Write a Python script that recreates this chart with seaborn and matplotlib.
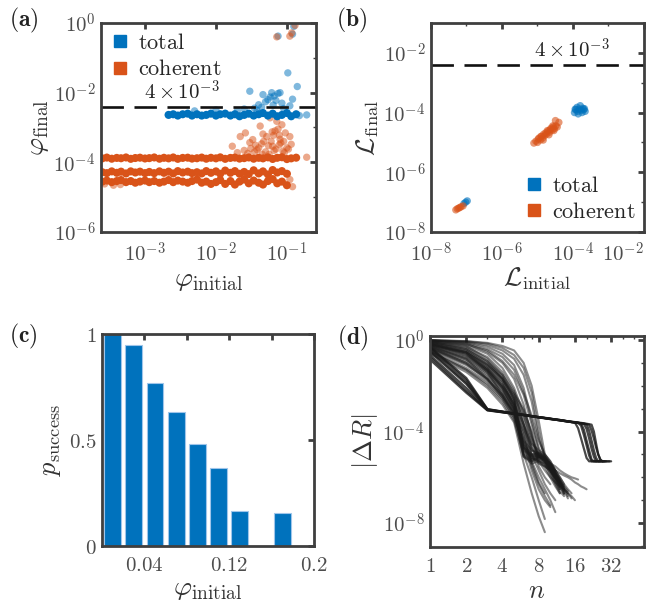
import numpy as np
import pandas as pd
import seaborn as sns
import matplotlib
matplotlib.use('Agg')
import matplotlib.pyplot as plt
from matplotlib.lines import Line2D
from matplotlib.ticker import FixedLocator, NullFormatter

# ---------------- data ----------------
threshold = 4e-3

# (a) phi_final vs phi_initial
band_x = [2.5e-4, 2.9e-4, 3.4e-4, 4.0e-4, 4.6e-4, 5.4e-4, 6.3e-4, 7.3e-4, 8.5e-4, 1.0e-3,
          1.15e-3, 1.35e-3, 1.6e-3, 1.85e-3, 2.15e-3, 2.5e-3, 2.9e-3, 3.4e-3, 4.0e-3, 4.6e-3,
          5.4e-3, 6.3e-3, 7.3e-3, 8.5e-3, 0.010, 0.0115, 0.0135, 0.016, 0.0185, 0.0215,
          0.025, 0.029, 0.034, 0.040, 0.046, 0.054, 0.063, 0.073, 0.085, 0.100, 0.115, 0.135]
blue_band_y = [2.3e-3, 2.4e-3, 2.2e-3, 2.4e-3, 2.5e-3, 2.2e-3, 2.4e-3, 2.2e-3, 2.3e-3, 2.5e-3,
               2.2e-3, 2.4e-3, 2.5e-3, 2.2e-3, 2.4e-3, 2.1e-3, 2.3e-3, 2.5e-3, 2.2e-3, 2.4e-3,
               2.6e-3, 2.2e-3, 2.5e-3, 2.1e-3, 2.3e-3, 2.6e-3, 2.1e-3, 2.4e-3]
blue_spread_x = [0.005, 0.010, 0.020, 0.025, 0.030, 0.035, 0.040, 0.046, 0.050, 0.054, 0.058,
                 0.061, 0.066, 0.070, 0.075, 0.080, 0.085, 0.103, 0.110, 0.120, 0.140, 0.150,
                 0.190, 0.075, 0.120, 0.125, 0.044, 0.064, 0.090, 0.038]
blue_spread_y = [3.0e-3, 3.2e-3, 3.0e-3, 3.4e-3, 1.1e-2, 3.6e-3, 4.5e-3, 8.8e-3, 5.5e-3, 6.3e-3,
                 7.5e-3, 1.0e-2, 8.0e-3, 6.0e-3, 9.5e-3, 1.0e-2, 5.0e-3, 3.7e-2, 4.2e-3, 6.5e-3,
                 1.5e-2, 2.2e-3, 2.3e-3, 0.42, 0.48, 0.80, 3.8e-3, 4.4e-3, 3.5e-3, 3.1e-3]
orange_band1_y = [1.30e-4, 1.37e-4, 1.27e-4, 1.34e-4, 1.31e-4, 1.38e-4, 1.26e-4, 1.33e-4, 1.36e-4, 1.29e-4,
                  1.32e-4, 1.38e-4, 1.27e-4, 1.35e-4, 1.30e-4, 1.38e-4, 1.26e-4, 1.34e-4, 1.36e-4, 1.28e-4,
                  1.31e-4, 1.37e-4, 1.27e-4, 1.35e-4, 1.30e-4, 1.39e-4, 1.26e-4, 1.34e-4, 1.37e-4, 1.28e-4,
                  1.32e-4, 1.38e-4, 1.27e-4, 1.35e-4, 1.30e-4, 1.39e-4, 1.25e-4, 1.35e-4, 1.40e-4, 1.24e-4,
                  1.30e-4, 1.36e-4]
orange_band2_y = [5.2e-5, 4.9e-5, 5.5e-5, 5.0e-5, 5.4e-5, 4.8e-5, 5.5e-5, 5.1e-5, 5.4e-5, 4.9e-5,
                  5.3e-5, 4.9e-5, 5.5e-5, 5.0e-5, 5.4e-5, 4.8e-5, 5.6e-5, 5.1e-5, 5.4e-5, 4.9e-5,
                  5.2e-5, 4.8e-5, 5.6e-5, 5.0e-5, 5.5e-5, 4.7e-5, 5.8e-5, 5.0e-5, 5.6e-5, 4.7e-5,
                  5.3e-5, 4.6e-5, 5.9e-5, 4.8e-5, 5.5e-5, 4.5e-5, 6.0e-5, 5.1e-5, 5.6e-5, 4.7e-5]
orange_band3_y = [2.8e-5, 3.0e-5, 2.7e-5, 2.9e-5, 3.1e-5, 2.7e-5, 2.9e-5, 2.6e-5, 2.8e-5, 3.0e-5,
                  2.7e-5, 2.9e-5, 2.6e-5, 2.8e-5, 3.1e-5, 2.7e-5, 3.0e-5, 2.8e-5, 2.6e-5, 2.9e-5,
                  3.2e-5, 2.6e-5, 2.8e-5, 2.4e-5, 2.7e-5, 3.1e-5, 2.4e-5, 2.9e-5, 2.3e-5, 2.8e-5,
                  3.2e-5, 2.5e-5, 3.0e-5, 2.6e-5, 2.3e-5, 2.9e-5, 3.3e-5, 2.5e-5, 2.8e-5, 2.2e-5]
orange_spread_x = [0.017, 0.022, 0.026, 0.030, 0.035, 0.038, 0.042, 0.047, 0.052, 0.058, 0.063,
                   0.068, 0.072, 0.078, 0.080, 0.088, 0.095, 0.110, 0.110, 0.115, 0.120, 0.190,
                   0.025, 0.045, 0.065, 0.085, 0.100, 0.055, 0.033, 0.075,
                   0.028, 0.040, 0.050, 0.060, 0.070, 0.082, 0.092, 0.036, 0.046, 0.056,
                   0.066, 0.078, 0.020, 0.031, 0.044, 0.062, 0.090, 0.105,
                   2.7e-4, 3.6e-4, 4.5e-4,
                   0.072, 0.110, 0.117, 0.130]
orange_spread_y = [2.9e-4, 5.5e-4, 7.0e-4, 3.7e-4, 2.0e-4, 2.3e-4, 1.1e-3, 4.0e-4, 5.5e-4, 1.9e-3, 2.9e-4,
                   8.0e-4, 1.5e-3, 3.2e-4, 4.6e-4, 2.1e-4, 7.0e-4, 5.5e-4, 3.2e-5, 3.3e-4, 2.0e-5, 1.4e-4,
                   2.2e-4, 1.7e-4, 6.0e-4, 1.2e-3, 2.6e-4, 3.0e-4, 4.5e-4, 9.0e-4,
                   1.8e-4, 2.6e-4, 2.0e-4, 4.0e-4, 2.4e-4, 3.6e-4, 1.9e-4, 3.1e-4, 6.5e-4, 1.7e-4,
                   2.2e-4, 6.0e-4, 1.9e-4, 2.5e-4, 3.4e-4, 7.5e-4, 4.0e-4, 2.4e-4,
                   2.4e-5, 2.2e-5, 2.3e-5,
                   0.40, 0.42, 0.52, 0.85]

# (b) L_final vs L_initial
b_blue_x = [9.5e-8, 1.05e-7, 8.5e-8, 1.1e-4, 1.3e-4, 1.6e-4, 1.9e-4, 2.2e-4, 1.4e-4, 1.2e-4,
            1.7e-4, 2.0e-4, 1.5e-4, 1.8e-4, 1.35e-4, 1.15e-4, 2.1e-4]
b_blue_y = [1.0e-7, 1.1e-7, 9.0e-8, 1.0e-4, 1.5e-4, 1.7e-4, 1.4e-4, 1.1e-4, 9.0e-5, 1.25e-4,
            1.2e-4, 1.25e-4, 1.3e-4, 1.0e-4, 1.1e-4, 1.3e-4, 1.35e-4]
b_orange_x = [5.0e-8, 6.0e-8, 7.0e-8, 5.5e-8, 8.0e-8, 6.5e-8, 7.9e-6, 9.0e-6, 1.0e-5, 1.1e-5,
              1.2e-5, 1.3e-5, 1.4e-5, 1.5e-5, 1.6e-5, 1.7e-5, 1.8e-5, 2.0e-5, 2.2e-5, 2.4e-5,
              2.6e-5, 2.8e-5, 3.0e-5, 3.3e-5, 3.6e-5, 4.0e-5, 1.25e-5, 1.9e-5, 2.3e-5, 2.7e-5,
              1.05e-5, 3.2e-5, 1.45e-5, 2.1e-5, 2.9e-5]
b_orange_y = [5.5e-8, 6.3e-8, 7.0e-8, 6.0e-8, 7.5e-8, 6.6e-8, 9.5e-6, 1.1e-5, 1.0e-5, 1.4e-5,
              1.2e-5, 1.6e-5, 1.4e-5, 1.9e-5, 1.7e-5, 2.1e-5, 1.9e-5, 2.4e-5, 2.2e-5, 3.0e-5,
              2.6e-5, 3.3e-5, 2.9e-5, 3.6e-5, 3.3e-5, 4.7e-5, 1.6e-5, 2.5e-5, 2.7e-5, 3.6e-5,
              1.3e-5, 5.4e-5, 1.2e-5, 1.8e-5, 2.5e-5]

# (c) success probability per phi_initial bin
bin_centers = [0.01, 0.03, 0.05, 0.07, 0.09, 0.11, 0.13, 0.15, 0.17, 0.19]
p_success = [1.0, 0.95, 0.77, 0.63, 0.48, 0.37, 0.166, 0.0, 0.158, 0.0]

# (d) |Delta R| per iteration n (index 0 -> n = 1)
slow_runs = [
    [0.30, 1.2e-2, 9.0e-4, 7.2e-4, 6.1e-4, 5.3e-4, 4.7e-4, 4.2e-4, 3.9e-4, 3.6e-4, 3.3e-4, 3.1e-4,
     2.9e-4, 2.8e-4, 2.6e-4, 2.5e-4, 1.4e-4, 5.0e-5, 1.8e-5, 7.0e-6, 5.0e-6, 5.0e-6, 5.0e-6, 5.0e-6],
    [0.18, 6.0e-3, 8.6e-4, 7.0e-4, 6.0e-4, 5.2e-4, 4.6e-4, 4.2e-4, 3.8e-4, 3.5e-4, 3.3e-4, 3.1e-4,
     2.9e-4, 2.7e-4, 2.6e-4, 2.5e-4, 2.4e-4, 2.3e-4, 1.2e-4, 4.0e-5, 1.5e-5, 6.0e-6, 5.0e-6, 5.0e-6,
     5.0e-6, 5.0e-6, 5.0e-6],
    [0.45, 1.8e-2, 9.4e-4, 7.4e-4, 6.2e-4, 5.4e-4, 4.8e-4, 4.3e-4, 3.9e-4, 3.6e-4, 3.4e-4, 3.2e-4,
     3.0e-4, 2.8e-4, 2.7e-4, 2.5e-4, 2.4e-4, 2.3e-4, 2.2e-4, 2.1e-4, 1.1e-4, 4.0e-5, 1.5e-5, 7.0e-6,
     5.0e-6, 5.0e-6, 5.0e-6, 5.0e-6, 5.0e-6],
    [0.22, 8.0e-3, 8.8e-4, 7.1e-4, 6.0e-4, 5.3e-4, 4.7e-4, 4.2e-4, 3.9e-4, 3.6e-4, 3.3e-4, 3.1e-4,
     2.9e-4, 2.8e-4, 2.6e-4, 2.5e-4, 2.4e-4, 2.3e-4, 2.2e-4, 2.1e-4, 2.0e-4, 1.1e-4, 5.0e-5, 2.0e-5,
     1.0e-5, 6.0e-6, 5.0e-6, 5.0e-6, 5.0e-6, 5.0e-6, 5.0e-6],
    [0.35, 1.4e-2, 9.2e-4, 7.3e-4, 6.1e-4, 5.3e-4, 4.7e-4, 4.3e-4, 3.9e-4, 3.6e-4, 3.4e-4, 3.2e-4,
     3.0e-4, 2.8e-4, 2.6e-4, 2.5e-4, 2.4e-4, 1.8e-4, 7.0e-5, 2.5e-5, 9.0e-6, 5.0e-6, 5.0e-6, 5.0e-6,
     5.0e-6, 5.0e-6],
    [0.14, 5.0e-3, 8.4e-4, 6.9e-4, 5.9e-4, 5.2e-4, 4.6e-4, 4.1e-4, 3.8e-4, 3.5e-4, 3.3e-4, 3.1e-4,
     2.9e-4, 2.7e-4, 2.6e-4, 2.5e-4, 2.4e-4, 2.3e-4, 2.2e-4, 1.3e-4, 5.0e-5, 1.8e-5, 8.0e-6, 5.0e-6,
     5.0e-6, 5.0e-6, 5.0e-6, 5.0e-6],
    [0.50, 2.2e-2, 9.6e-4, 7.5e-4, 6.3e-4, 5.4e-4, 4.8e-4, 4.3e-4, 4.0e-4, 3.7e-4, 3.4e-4, 3.2e-4,
     3.0e-4, 2.8e-4, 2.7e-4, 2.6e-4, 2.5e-4, 2.4e-4, 2.3e-4, 2.2e-4, 2.1e-4, 2.0e-4, 1.0e-4, 3.0e-5,
     1.0e-5, 6.0e-6, 5.0e-6, 5.0e-6, 5.0e-6, 5.0e-6, 5.0e-6, 5.0e-6],
]
fast_runs = [
    [0.60, 0.20, 0.05, 0.012, 1.5e-3, 1.2e-5, 6e-6, 7e-6, 5e-6, 2e-6, 8e-7, 3e-7],
    [0.45, 0.12, 0.03, 6e-3, 8e-4, 8e-6, 5e-6, 6e-6, 4e-6, 1.5e-6, 6e-7, 2.5e-7, 1.5e-7],
    [0.80, 0.35, 0.08, 0.02, 2.5e-3, 1.5e-5, 8e-6, 9e-6, 6e-6, 2.5e-6, 1e-6, 4e-7],
    [0.70, 0.25, 0.04, 4e-3, 5e-4, 3e-5, 1e-5, 1.1e-5, 7e-6, 3e-6, 1.2e-6, 5e-7, 2e-7],
    [0.35, 0.06, 0.015, 3e-3, 6e-4, 2e-5, 7e-6, 5e-6, 3e-6, 1e-6, 4e-7, 2e-7],
    [0.95, 0.80, 0.50, 0.25, 0.08, 8e-3, 3e-4, 2e-5, 6e-6, 3e-6, 1.5e-6, 7e-7],
    [1.0, 0.90, 0.75, 0.55, 0.35, 0.10, 0.01, 3e-4, 1e-5, 4e-6, 2e-6],
    [0.25, 0.04, 8e-3, 1.5e-3, 2.5e-4, 4e-6, 2e-7, 2e-8, 4e-9],
    [0.55, 0.15, 0.02, 3e-3, 4e-4, 3e-5, 2e-6, 3e-7, 1e-7, 5e-8],
    [0.90, 0.55, 0.15, 0.03, 4e-3, 3e-4, 2e-5, 5e-6, 2e-6, 1e-6, 6e-7, 4e-7, 3e-7, 2e-7],
    [0.50, 0.10, 0.025, 5e-3, 1e-3, 4e-5, 1.5e-5, 1.2e-5, 8e-6, 4e-6, 1.5e-6, 7e-7, 3e-7, 1.5e-7],
    [0.85, 0.45, 0.12, 0.03, 5e-3, 1e-3, 8e-5, 3e-6, 1e-6, 5e-7],
    [0.40, 0.08, 0.02, 4e-3, 7e-4, 1e-4, 1e-5, 2e-6, 5e-7, 2e-7, 1e-7],
    [0.65, 0.30, 0.06, 0.01, 2e-3, 2e-4, 3e-5, 1e-5, 6e-6, 4e-6, 3e-6, 2e-6, 1.5e-6, 1.2e-6, 1e-6,
     9e-7, 8e-7],
    [0.75, 0.30, 0.07, 0.015, 1.2e-3, 1e-5, 6e-6, 8e-6, 6e-6, 3e-6, 1.2e-6, 5e-7, 2.5e-7],
    [0.55, 0.18, 0.045, 8e-3, 9e-4, 9e-6, 5e-6, 7e-6, 5e-6, 2e-6, 7e-7, 3e-7],
    [0.65, 0.22, 0.06, 0.015, 2e-3, 2e-5, 9e-6, 1e-5, 6e-6, 2.5e-6, 9e-7, 4e-7, 2e-7],
    [0.85, 0.40, 0.10, 0.025, 3e-3, 2.5e-5, 1e-5, 1.2e-5, 8e-6, 3e-6, 1.3e-6, 6e-7, 3e-7],
    [0.30, 0.05, 0.012, 2.5e-3, 4e-4, 8e-6, 4e-6, 5e-6, 4e-6, 1.5e-6, 5e-7, 2e-7],
    [0.98, 0.85, 0.60, 0.35, 0.15, 0.03, 2e-3, 5e-5, 8e-6, 3e-6, 1e-6],
    [0.99, 0.75, 0.40, 0.18, 0.05, 5e-3, 5e-4, 4e-5, 1e-5, 5e-6, 2e-6, 1e-6, 5e-7],
    [0.45, 0.10, 0.02, 4e-3, 6e-4, 5e-5, 5e-6, 1e-6, 3e-7, 1e-7, 3e-8],
    [0.70, 0.28, 0.05, 8e-3, 1.2e-3, 6e-5, 3e-6, 5e-7, 1.5e-7, 6e-8],
    [0.90, 0.60, 0.25, 0.06, 8e-3, 6e-4, 3e-5, 1.5e-5, 1e-5, 5e-6, 2e-6, 8e-7, 3e-7],
    [0.60, 0.25, 0.05, 0.01, 1.5e-3, 1.5e-4, 2e-5, 8e-6, 5e-6, 3e-6, 2e-6, 1.5e-6, 1.2e-6, 1e-6,
     8e-7, 6e-7, 5e-7, 4e-7, 3.5e-7, 3e-7],
    [0.80, 0.50, 0.18, 0.04, 6e-3, 2e-4, 1.5e-5, 9e-6, 7e-6, 4e-6, 1.5e-6, 6e-7, 2.5e-7, 1.2e-7],
    [0.50, 0.14, 0.035, 7e-3, 1e-3, 1.5e-5, 7e-6, 8e-6, 6e-6, 2.5e-6, 1e-6, 4e-7, 1.8e-7],
    [0.95, 0.70, 0.30, 0.10, 0.02, 1.5e-3, 6e-5, 1e-5, 4e-6, 2e-6, 1e-6, 6e-7],
    [0.75, 0.40, 0.12, 0.02, 3e-3, 5e-4, 5e-5, 8e-6, 6e-6, 4e-6, 2e-6, 1e-6, 5e-7, 3e-7, 2e-7],
    [0.60, 0.28, 0.08, 0.02, 4e-3, 8e-4, 1e-4, 6e-6, 3e-6, 2e-6, 1e-6, 6e-7, 4e-7, 2.5e-7],
    [0.88, 0.65, 0.35, 0.12, 0.03, 4e-3, 2e-4, 1.5e-5, 5e-6, 2.5e-6, 1.5e-6, 8e-7, 4e-7],
    [0.42, 0.09, 0.018, 3.5e-3, 7e-4, 2e-5, 8e-6, 9e-6, 7e-6, 3.5e-6, 1.5e-6, 7e-7, 3.5e-7, 2e-7, 1.2e-7],
    [0.97, 0.88, 0.70, 0.45, 0.22, 0.06, 5e-3, 1e-4, 6e-6, 2e-6, 9e-7, 5e-7],
    [0.33, 0.05, 0.01, 2e-3, 3e-4, 1e-5, 1e-6, 1e-7, 1.5e-8],
    [0.70, 0.33, 0.09, 0.02, 2.5e-3, 2e-4, 1e-5, 4e-6, 3e-6, 2e-6, 1e-6, 5e-7, 3e-7, 2e-7, 1.5e-7, 1e-7],
    [0.52, 0.16, 0.04, 9e-3, 1.5e-3, 1e-4, 4e-6, 6e-7, 2e-7],
]

# ---------------- style ----------------
sns.set_theme(style='white')
plt.rcParams['font.family'] = ['DejaVu Serif']
plt.rcParams['mathtext.fontset'] = 'cm'

BLUE = '#0072BD'
ORANGE = '#D95319'
FRAME = '#3f3f3f'
TXT = '#4d4d4d'
LAB = '#333333'

fig = plt.figure(figsize=(6.62, 6.08), dpi=100)
ax_a = fig.add_axes([101/662, 1-232/608, 215/662, 209/608])
ax_b = fig.add_axes([431/662, 1-232/608, 213/662, 209/608])
ax_c = fig.add_axes([102/662, 1-546/608, 212/662, 212/608])
ax_d = fig.add_axes([430/662, 1-547/608, 214/662, 211/608])


def frame(ax):
    for s in ax.spines.values():
        s.set_color(FRAME)
        s.set_linewidth(2.0)
    ax.tick_params(which='both', direction='in', top=True, right=True,
                   color=FRAME, labelcolor=TXT, labelsize=15)
    ax.tick_params(axis='x', pad=7)
    ax.tick_params(axis='y', pad=4)
    ax.tick_params(which='major', length=4, width=2)
    ax.tick_params(which='minor', length=2, width=1)


def sq_legend(ax, **kw):
    h = [Line2D([], [], ls='', marker='s', ms=9, color=BLUE),
         Line2D([], [], ls='', marker='s', ms=9, color=ORANGE)]
    ax.legend(h, [r'$\mathrm{total}$', r'$\mathrm{coherent}$'], frameon=False,
              fontsize=16, handlelength=0.9, handletextpad=0.35, labelspacing=0.2,
              borderpad=0.1, borderaxespad=0.3, **kw)


dash = (8.5, 4)
palette = {'total': BLUE, 'coherent': ORANGE}

# ---- (a) ----
df_band = pd.DataFrame({
    'x': band_x[14:] + band_x + band_x[:40] + band_x[:40],
    'y': blue_band_y + orange_band1_y + orange_band2_y + orange_band3_y,
    'kind': ['total'] * 28 + ['coherent'] * (42 + 40 + 40),
})
df_spread = pd.DataFrame({
    'x': blue_spread_x + orange_spread_x,
    'y': blue_spread_y + orange_spread_y,
    'kind': ['total'] * len(blue_spread_x) + ['coherent'] * len(orange_spread_x),
})
sns.scatterplot(data=df_spread, x='x', y='y', hue='kind', palette=palette,
                s=28, alpha=0.5, linewidth=0, legend=False, ax=ax_a)
sns.scatterplot(data=df_band, x='x', y='y', hue='kind', palette=palette,
                s=34, alpha=1.0, linewidth=0, legend=False, ax=ax_a)
ax_a.set(xscale='log', yscale='log', xlim=(2.4e-4, 0.257), ylim=(1e-6, 1))
ax_a.axhline(threshold, color='#111111', lw=1.9, dashes=dash)
ax_a.text(3.3e-3, 4.7e-3, r'$4\times10^{-3}$', ha='center', va='bottom', fontsize=15, color='#222222')
ax_a.set_xticks([1e-3, 1e-2, 1e-1], [r'$10^{-3}$', r'$10^{-2}$', r'$10^{-1}$'])
ax_a.set_yticks([1e-6, 1e-4, 1e-2, 1], [r'$10^{-6}$', r'$10^{-4}$', r'$10^{-2}$', r'$10^{0}$'])
ax_a.yaxis.set_minor_locator(FixedLocator([1e-5, 1e-3, 1e-1]))
ax_a.xaxis.set_minor_locator(FixedLocator([]))
ax_a.yaxis.set_minor_formatter(NullFormatter())
ax_a.set_xlabel(r'$\varphi_{\mathrm{initial}}$', fontsize=20, color=LAB, labelpad=0)
ax_a.set_ylabel(r'$\varphi_{\mathrm{final}}$', fontsize=20, color=LAB, labelpad=2)
frame(ax_a)
sq_legend(ax_a, loc='upper left')

# ---- (b) ----
df_b = pd.DataFrame({
    'x': b_blue_x + b_orange_x,
    'y': b_blue_y + b_orange_y,
    'kind': ['total'] * len(b_blue_x) + ['coherent'] * len(b_orange_x),
})
sns.scatterplot(data=df_b, x='x', y='y', hue='kind', palette=palette,
                s=28, alpha=0.6, linewidth=0, legend=False, ax=ax_b)
ax_b.set(xscale='log', yscale='log', xlim=(1e-8, 1e-2), ylim=(1e-8, 1e-1))
ax_b.axhline(threshold, color='#111111', lw=1.9, dashes=dash)
ax_b.text(9e-5, 5.0e-3, r'$4\times10^{-3}$', ha='center', va='bottom', fontsize=15, color='#222222')
ax_b.set_xticks([1e-8, 1e-6, 1e-4, 1e-2], [r'$10^{-8}$', r'$10^{-6}$', r'$10^{-4}$', r'$10^{-2}$'])
ax_b.set_yticks([1e-8, 1e-6, 1e-4, 1e-2], [r'$10^{-8}$', r'$10^{-6}$', r'$10^{-4}$', r'$10^{-2}$'])
ax_b.xaxis.set_minor_locator(FixedLocator([1e-7, 1e-5, 1e-3]))
ax_b.yaxis.set_minor_locator(FixedLocator([1e-7, 1e-5, 1e-3]))
ax_b.xaxis.set_minor_formatter(NullFormatter())
ax_b.yaxis.set_minor_formatter(NullFormatter())
ax_b.set_xlabel(r'$\mathcal{L}_{\mathrm{initial}}$', fontsize=19, color=LAB, labelpad=0)
ax_b.set_ylabel(r'$\mathcal{L}_{\mathrm{final}}$', fontsize=19, color=LAB, labelpad=2)
frame(ax_b)
ax_b.get_xticklabels()[-1].set_horizontalalignment('right')
sq_legend(ax_b, loc='lower right')

# ---- (c) ----
sns.barplot(x=bin_centers, y=p_success, native_scale=True, width=0.8, color=BLUE,
            saturation=1, edgecolor='#9fc5ea', linewidth=0.8, ax=ax_c)
ax_c.set(xlim=(0, 0.2), ylim=(0, 1))
ax_c.set_xticks([0.04, 0.08, 0.12, 0.16, 0.2], ['$0.04$', '', '$0.12$', '', '$0.2$'])
ax_c.set_yticks([0, 0.5, 1], ['$0$', '$0.5$', '$1$'])
ax_c.set_xlabel(r'$\varphi_{\mathrm{initial}}$', fontsize=20, color=LAB, labelpad=0)
ax_c.set_ylabel(r'$p_{\mathrm{success}}$', fontsize=19, color=LAB, labelpad=4)
frame(ax_c)

# ---- (d) ----
rows = []
for k, run in enumerate(slow_runs + fast_runs):
    group = 'slow' if k < len(slow_runs) else 'fast'
    for i, v in enumerate(run):
        rows.append((k, group, i + 1, v))
df_d = pd.DataFrame(rows, columns=['run', 'group', 'n', 'dR'])
sns.lineplot(data=df_d[df_d.group == 'fast'], x='n', y='dR', units='run', estimator=None,
             color='#1a1a1a', alpha=0.5, lw=1.5, ax=ax_d)
sns.lineplot(data=df_d[df_d.group == 'slow'], x='n', y='dR', units='run', estimator=None,
             color='#1a1a1a', alpha=0.8, lw=1.6, ax=ax_d)
ax_d.set(xscale='log', yscale='log', xlim=(1, 60), ylim=(9e-10, 1.5))
ax_d.set_xticks([1, 2, 4, 8, 16, 32], ['$1$', '$2$', '$4$', '$8$', '$16$', '$32$'])
ax_d.xaxis.set_minor_locator(FixedLocator([3, 5, 6, 7, 10, 20, 24, 40, 50]))
ax_d.xaxis.set_minor_formatter(NullFormatter())
ax_d.set_yticks([1e-8, 1e-4, 1], [r'$10^{-8}$', r'$10^{-4}$', r'$10^{0}$'])
ax_d.yaxis.set_minor_locator(FixedLocator([1e-9, 1e-7, 1e-6, 1e-5, 1e-3, 1e-2, 1e-1]))
ax_d.yaxis.set_minor_formatter(NullFormatter())
ax_d.set_xlabel(r'$n$', fontsize=19, color=LAB, labelpad=2)
ax_d.set_ylabel(r'$|\Delta R|$', fontsize=19, color=LAB, labelpad=2)
frame(ax_d)

# panel letters
for lbl, (px, py) in {'(a)': (24, 20), '(b)': (352, 20), '(c)': (23, 336), '(d)': (353, 338)}.items():
    fig.text(px/662, 1 - py/608, r'$\mathbf{' + lbl + '}$', ha='center', va='center',
             fontsize=17, color='#222222')

fig.savefig('out.png', dpi=100)
